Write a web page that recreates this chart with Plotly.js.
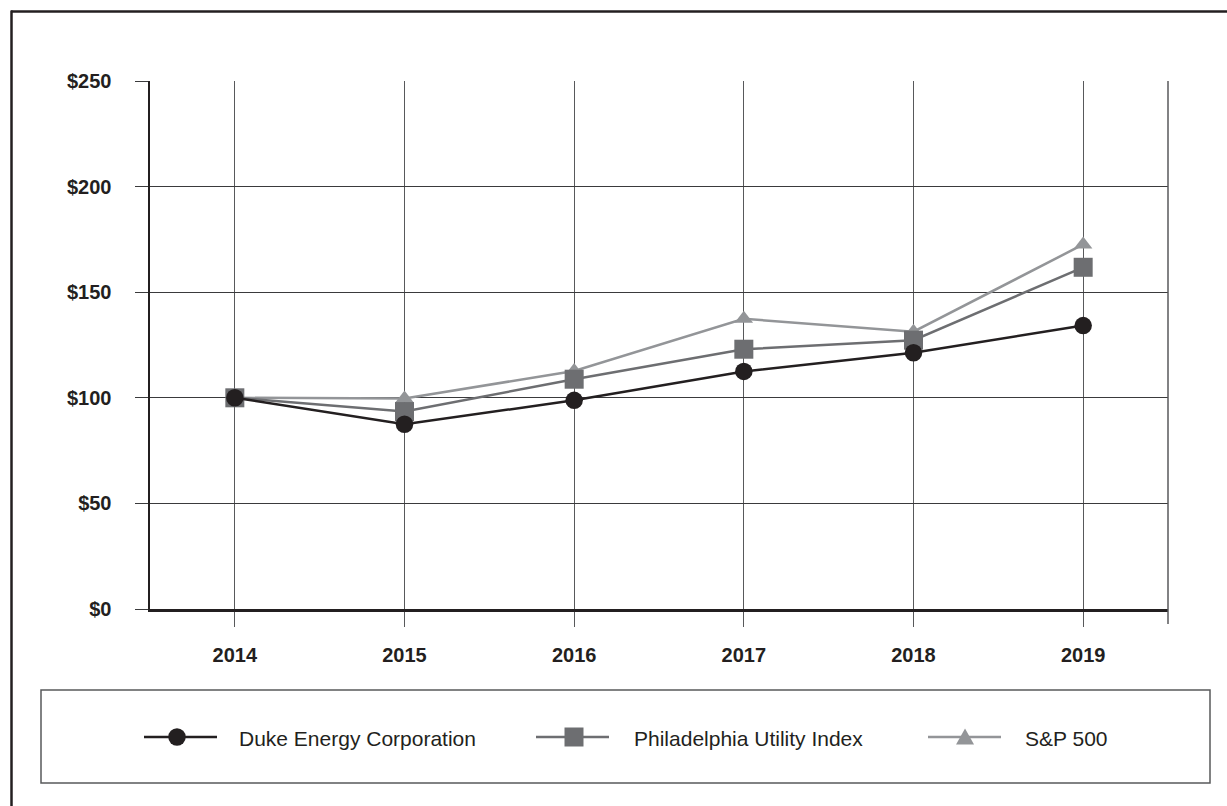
<!DOCTYPE html>
<html>
<head>
<meta charset="utf-8">
<script src="https://cdn.plot.ly/plotly-3.0.1.min.js"></script>
<style>html,body{margin:0;padding:0;background:#fff;}#chart{width:1227px;height:806px;}</style>
</head>
<body>
<div id="chart"></div>
<script>
// ---- data ----
const years = ["2014", "2015", "2016", "2017", "2018", "2019"];
const duke = [100, 87.5, 98.8, 112.5, 121.3, 134.2];
const philly = [100, 93.5, 108.8, 123, 127.3, 161.8];
const sp500 = [100, 99.7, 112.7, 137.4, 131.3, 172.6];
const seriesNames = ["Duke Energy Corporation", "Philadelphia Utility Index", "S&P 500"];
const yTicks = [0, 50, 100, 150, 200, 250];
const yTickText = yTicks.map(v => "$" + v);

// ---- layout helpers (pixel -> paper) ----
const W = 1227, H = 806, L = 150, R = 59, T = 81, B = 197;
const pw = W - L - R, ph = H - T - B;
const px = x => (x - L) / pw;
const py = y => (H - B - y) / ph;

const cDuke = "#231f20", cPhil = "#6d6e71", cSP = "#939598";
const colors = [cDuke, cPhil, cSP];

const traces = [
  {x: years, y: sp500, name: seriesNames[2], type: "scatter", mode: "lines+markers",
   line: {color: cSP, width: 2.5}, marker: {symbol: "triangle-up", size: 16, color: cSP}},
  {x: years, y: philly, name: seriesNames[1], type: "scatter", mode: "lines+markers",
   line: {color: cPhil, width: 2.5}, marker: {symbol: "square", size: 19, color: cPhil}},
  {x: years, y: duke, name: seriesNames[0], type: "scatter", mode: "lines+markers",
   line: {color: cDuke, width: 2.5}, marker: {symbol: "circle", size: 17.5, color: cDuke}}
];

// ---- legend (drawn as shapes + annotations inside the legend box) ----
const legY = 737;
const legItems = [
  {l0: 144, l1: 217, c: 177, t: 237},
  {l0: 536, l1: 609, c: 574, t: 632},
  {l0: 928, l1: 1001, c: 965, t: 1023}
];
const legShapes = [];
const legAnn = [];
legItems.forEach((it, i) => {
  legShapes.push({type: "line", xref: "paper", yref: "paper", x0: px(it.l0), x1: px(it.l1), y0: py(legY), y1: py(legY),
    line: {color: colors[i], width: 2.5}});
  if (i === 0) {
    legShapes.push({type: "circle", xref: "paper", yref: "paper", x0: px(it.c - 8.75), x1: px(it.c + 8.75),
      y0: py(legY - 8.75), y1: py(legY + 8.75), fillcolor: colors[i], line: {width: 0}});
  } else if (i === 1) {
    legShapes.push({type: "rect", xref: "paper", yref: "paper", x0: px(it.c - 9.5), x1: px(it.c + 9.5),
      y0: py(legY - 9.5), y1: py(legY + 9.5), fillcolor: colors[i], line: {width: 0}});
  } else {
    const p = "M" + px(it.c - 9) + "," + py(legY + 7.5) + " L" + px(it.c + 9) + "," + py(legY + 7.5) +
              " L" + px(it.c) + "," + py(legY - 8.5) + " Z";
    legShapes.push({type: "path", xref: "paper", yref: "paper", path: p, fillcolor: colors[i], line: {width: 0}});
  }
  legAnn.push({xref: "paper", yref: "paper", x: px(it.t), y: py(legY + 1), xanchor: "left", yanchor: "middle",
    text: seriesNames[i], showarrow: false,
    font: {family: "Liberation Sans, Arial, sans-serif", size: 21, color: "#231f20"}});
});

const layout = {
  width: W, height: H,
  margin: {l: L, r: R, t: T, b: B},
  paper_bgcolor: "#ffffff", plot_bgcolor: "#ffffff",
  font: {family: "Liberation Sans, Arial, sans-serif", color: "#231f20"},
  showlegend: false,
  xaxis: {
    type: "category", range: [-0.5, 5.5],
    showgrid: true, gridcolor: "#58595b", gridwidth: 1,
    ticks: "outside", ticklen: 15, tickcolor: "#58595b", tickwidth: 1,
    showline: true, linecolor: "#231f20", linewidth: 2.5,
    tickfont: {family: "Liberation Sans, Arial", size: 20, color: "#231f20", weight: "bold"},
    ticklabelstandoff: 11, fixedrange: true, zeroline: false
  },
  yaxis: {
    range: [0, 250], tickmode: "array", tickvals: yTicks, ticktext: yTickText,
    showgrid: true, gridcolor: "#3a3a3c", gridwidth: 1,
    ticks: "outside", ticklen: 13, tickcolor: "#3a3a3c", tickwidth: 1,
    showline: true, linecolor: "#231f20", linewidth: 2.5,
    tickfont: {family: "Liberation Sans, Arial", size: 20, color: "#231f20", weight: "bold"},
    ticklabelstandoff: 19, fixedrange: true, zeroline: false
  },
  annotations: legAnn,
  shapes: [
    // right edge of plot area
    {type: "line", xref: "paper", yref: "paper", x0: 1, x1: 1, y0: py(624), y1: 1,
     line: {color: "#58595b", width: 1.5}},
    // outer frame (top and left)
    {type: "line", xref: "paper", yref: "paper", x0: px(11), x1: px(W + 5), y0: py(11.5), y1: py(11.5),
     line: {color: "#231f20", width: 2.5}},
    {type: "line", xref: "paper", yref: "paper", x0: px(11.5), x1: px(11.5), y0: py(10.5), y1: py(H + 5),
     line: {color: "#231f20", width: 2.5}},
    // legend box
    {type: "rect", xref: "paper", yref: "paper", x0: px(41), x1: px(1210), y0: py(690), y1: py(783),
     line: {color: "#58595b", width: 1.5}, fillcolor: "rgba(0,0,0,0)"}
  ].concat(legShapes)
};

Plotly.newPlot("chart", traces, layout, {displayModeBar: false, staticPlot: true});
</script>
</body>
</html>
